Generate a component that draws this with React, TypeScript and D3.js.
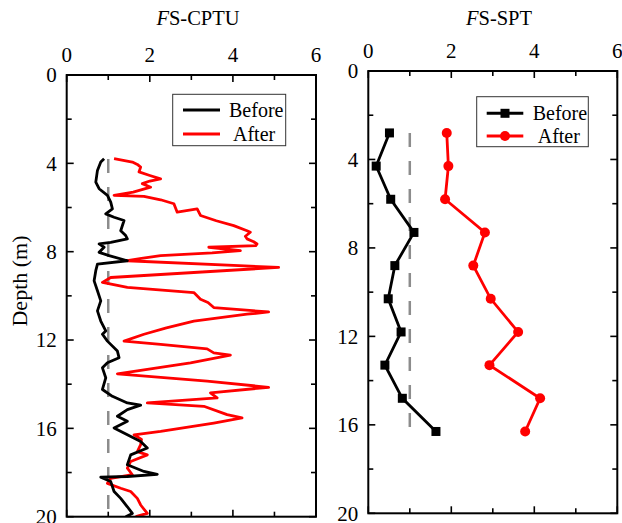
import React from "react";
import * as d3 from "d3";

// ---------- Data ----------
const cptuBeforeDepth = [3.79,3.94,4.32,4.85,5.15,5.45,5.76,6.06,6.29,6.44,6.59,7.05,7.27,7.42,7.58,7.65,7.80,8.03,8.18,8.41,8.56,8.86,9.32,9.77,10.23,10.68,11.14,11.59,11.74,12.05,12.50,12.80,13.03,13.26,13.71,14.24,14.55,14.85,14.95,15.15,15.45,15.68,15.98,16.29,16.59,16.89,17.20,17.65,17.95,18.08,18.18,18.21,18.41,18.86,19.17,19.55,19.85,20.00];
const cptuBeforeFS = [0.90,0.82,0.74,0.70,0.78,0.98,1.06,1.10,0.94,1.14,1.38,1.30,1.42,1.46,1.06,0.78,0.90,0.78,1.02,1.46,0.74,0.70,0.66,0.74,0.82,0.74,0.82,0.94,0.86,0.98,1.22,1.26,0.98,0.86,0.94,0.86,1.10,1.46,1.78,1.46,1.22,1.46,1.14,1.46,1.78,1.94,1.54,1.46,1.86,2.18,1.46,0.82,1.06,1.14,1.30,1.46,1.58,1.42];

const cptuAfterDepth = [3.79,3.94,4.05,4.17,4.39,4.55,4.70,4.80,4.92,5.08,5.30,5.45,5.50,5.65,5.83,6.21,6.06,6.36,6.60,6.82,7.05,7.12,7.30,7.42,7.55,7.65,7.73,7.80,7.95,8.05,8.18,8.30,8.41,8.71,9.17,9.39,9.62,9.85,10.15,10.30,10.53,10.73,10.83,11.14,11.45,11.74,12.05,12.20,12.40,12.58,12.68,13.03,13.26,13.53,13.86,14.14,14.39,14.62,14.85,15.00,15.38,15.53,15.76,16.14,16.29,16.50,16.74,17.05,17.20,17.50,17.80,18.10,18.26,18.49,18.71,18.86,19.17,19.47,19.85,20.00];
const cptuAfterFS = [1.14,1.58,1.70,1.78,1.74,2.00,2.26,2.00,1.82,2.02,1.60,1.14,1.86,2.26,2.58,2.66,3.14,3.22,3.60,4.02,4.34,4.42,4.30,4.34,4.50,4.58,4.55,3.42,4.18,3.50,2.26,1.80,1.46,5.10,1.06,0.86,1.46,3.06,3.22,3.40,3.54,4.86,4.34,3.06,2.40,1.86,1.38,2.26,3.38,3.54,3.94,2.98,2.18,1.22,3.38,4.86,3.46,3.62,1.94,3.30,3.86,4.22,3.54,2.26,1.62,1.80,1.78,1.70,1.94,1.54,1.46,1.58,1.06,0.98,1.30,1.54,1.70,1.78,1.94,1.66];

const sptDepth = [2.8,4.3,5.8,7.3,8.8,10.3,11.8,13.3,14.8,16.3];
const sptBeforeFS = [0.51,0.19,0.54,1.10,0.64,0.48,0.79,0.40,0.82,1.63];
const sptAfterFS = [1.89,1.93,1.85,2.81,2.53,2.95,3.61,2.92,4.14,3.78];

const xTicksMajor = [0, 2, 4, 6];
const xTicksMinor = [1, 3, 5];
const yTicksMajor = [0, 4, 8, 12, 16, 20];
const yTicksMinor = [2, 6, 10, 14, 18];
const thresholdFS = 1;
const seriesNames = ["Before", "After"];
const colors = { before: "#000000", after: "#ff0000", thr: "#8c8c8c" };

const FONT = "'Liberation Serif', 'Times New Roman', serif";

type Panel = {
  x0: number; x1: number; y0: number; y1: number;
};

function Axes({ p, xs, ys, showY }: { p: Panel; xs: d3.ScaleLinear<number, number>; ys: d3.ScaleLinear<number, number>; showY: boolean }) {
  const maj = 7, min = 5;
  return (
    <g>
      {xTicksMajor.map((t) => (
        <g key={"xm" + t}>
          <line x1={xs(t)} x2={xs(t)} y1={p.y0} y2={p.y0 + maj} stroke="#000" strokeWidth={1.6} />
          <line x1={xs(t)} x2={xs(t)} y1={p.y1} y2={p.y1 - maj} stroke="#000" strokeWidth={1.6} />
          <text x={xs(t)} y={p.y0 - 13} textAnchor="middle" fontSize={21} fontFamily={FONT}>{t}</text>
        </g>
      ))}
      {xTicksMinor.map((t) => (
        <g key={"xn" + t}>
          <line x1={xs(t)} x2={xs(t)} y1={p.y0} y2={p.y0 + min} stroke="#000" strokeWidth={1.6} />
          <line x1={xs(t)} x2={xs(t)} y1={p.y1} y2={p.y1 - min} stroke="#000" strokeWidth={1.6} />
        </g>
      ))}
      {yTicksMajor.map((t) => (
        <g key={"ym" + t}>
          <line x1={p.x0} x2={p.x0 + maj} y1={ys(t)} y2={ys(t)} stroke="#000" strokeWidth={1.6} />
          <line x1={p.x1} x2={p.x1 - maj} y1={ys(t)} y2={ys(t)} stroke="#000" strokeWidth={1.6} />
          {showY && (
            <text x={p.x0 - 10} y={ys(t)} dy="0.35em" textAnchor="end" fontSize={21} fontFamily={FONT}>{t}</text>
          )}
        </g>
      ))}
      {yTicksMinor.map((t) => (
        <g key={"yn" + t}>
          <line x1={p.x0} x2={p.x0 + min} y1={ys(t)} y2={ys(t)} stroke="#000" strokeWidth={1.6} />
          <line x1={p.x1} x2={p.x1 - min} y1={ys(t)} y2={ys(t)} stroke="#000" strokeWidth={1.6} />
        </g>
      ))}
      <rect x={p.x0} y={p.y0} width={p.x1 - p.x0} height={p.y1 - p.y0} fill="none" stroke="#000" strokeWidth={2} />
    </g>
  );
}

export default function App() {
  const pL: Panel = { x0: 66.7, x1: 316, y0: 75, y1: 516.7 };
  const pR: Panel = { x0: 368.3, x1: 617.3, y0: 71, y1: 513.3 };

  const xL = d3.scaleLinear().domain([0, 6]).range([pL.x0, pL.x1]);
  const yL = d3.scaleLinear().domain([0, 20]).range([pL.y0, pL.y1]);
  const xR = d3.scaleLinear().domain([0, 6]).range([pR.x0, pR.x1]);
  const yR = d3.scaleLinear().domain([0, 20]).range([pR.y0, pR.y1]);

  const lineL = d3.line<[number, number]>().x((d) => xL(d[1])).y((d) => yL(d[0]));
  const lineR = d3.line<[number, number]>().x((d) => xR(d[1])).y((d) => yR(d[0]));

  const beforeL = lineL(cptuBeforeDepth.map((d, i) => [d, cptuBeforeFS[i]] as [number, number])) || "";
  const afterL = lineL(cptuAfterDepth.map((d, i) => [d, cptuAfterFS[i]] as [number, number])) || "";
  const sptB = sptDepth.map((d, i) => [d, sptBeforeFS[i]] as [number, number]);
  const sptA = sptDepth.map((d, i) => [d, sptAfterFS[i]] as [number, number]);

  return (
    <svg width={622} height={523} style={{ position: "absolute", left: 0, top: 0, background: "#fff" }}>
      <defs>
        <clipPath id="clipL">
          <rect x={pL.x0} y={pL.y0} width={pL.x1 - pL.x0} height={pL.y1 - pL.y0} />
        </clipPath>
      </defs>
      <rect x={0} y={0} width={622} height={523} fill="#fff" />

      {/* Titles */}
      <text x={198} y={25} textAnchor="middle" fontSize={20.5} fontFamily={FONT}>
        <tspan fontStyle="italic">F</tspan>S-CPTU
      </text>
      <text x={499} y={25} textAnchor="middle" fontSize={20.5} fontFamily={FONT}>
        <tspan fontStyle="italic">F</tspan>S-SPT
      </text>
      <text transform="translate(27,281) rotate(-90)" textAnchor="middle" fontSize={22} fontFamily={FONT}>Depth (m)</text>

      {/* Left panel */}
      <g clipPath="url(#clipL)">
        <line x1={xL(thresholdFS)} x2={xL(thresholdFS)} y1={yL(3.8)} y2={yL(20)} stroke={colors.thr} strokeWidth={2.5} strokeDasharray="14,14" />
        <path d={afterL} fill="none" stroke={colors.after} strokeWidth={2.8} strokeLinejoin="round" />
        <path d={beforeL} fill="none" stroke={colors.before} strokeWidth={2.8} strokeLinejoin="round" />
      </g>
      <Axes p={pL} xs={xL} ys={yL} showY={true} />

      {/* Left legend */}
      <g>
        <rect x={172.7} y={94.3} width={113} height={51.4} fill="#fff" stroke="#333" strokeWidth={1} />
        <line x1={183} x2={220} y1={110} y2={110} stroke={colors.before} strokeWidth={3} />
        <text x={229} y={110} dy="0.35em" fontSize={20} fontFamily={FONT}>{seriesNames[0]}</text>
        <line x1={183} x2={220} y1={134} y2={134} stroke={colors.after} strokeWidth={3} />
        <text x={233} y={134} dy="0.35em" fontSize={20} fontFamily={FONT}>{seriesNames[1]}</text>
      </g>

      {/* Right panel */}
      <line x1={xR(thresholdFS)} x2={xR(thresholdFS)} y1={yR(sptDepth[0])} y2={yR(sptDepth[sptDepth.length - 1])} stroke={colors.thr} strokeWidth={2.5} strokeDasharray="14,14" />
      <path d={lineR(sptB) || ""} fill="none" stroke={colors.before} strokeWidth={2.8} />
      {sptB.map((d, i) => (
        <rect key={"b" + i} x={xR(d[1]) - 4.5} y={yR(d[0]) - 4.5} width={9} height={9} fill={colors.before} />
      ))}
      <path d={lineR(sptA) || ""} fill="none" stroke={colors.after} strokeWidth={2.8} />
      {sptA.map((d, i) => (
        <circle key={"a" + i} cx={xR(d[1])} cy={yR(d[0])} r={5} fill={colors.after} />
      ))}
      <Axes p={pR} xs={xR} ys={yR} showY={true} />

      {/* Right legend */}
      <g>
        <rect x={476.7} y={96.7} width={111.6} height={50} fill="#fff" stroke="#333" strokeWidth={1} />
        <line x1={486.7} x2={523.3} y1={113.3} y2={113.3} stroke={colors.before} strokeWidth={3} />
        <rect x={500.5} y={108.8} width={9} height={9} fill={colors.before} />
        <text x={532.7} y={113.3} dy="0.35em" fontSize={20} fontFamily={FONT}>{seriesNames[0]}</text>
        <line x1={486.7} x2={523.3} y1={136} y2={136} stroke={colors.after} strokeWidth={3} />
        <circle cx={505} cy={136} r={5} fill={colors.after} />
        <text x={537.7} y={136} dy="0.35em" fontSize={20} fontFamily={FONT}>{seriesNames[1]}</text>
      </g>
    </svg>
  );
}
